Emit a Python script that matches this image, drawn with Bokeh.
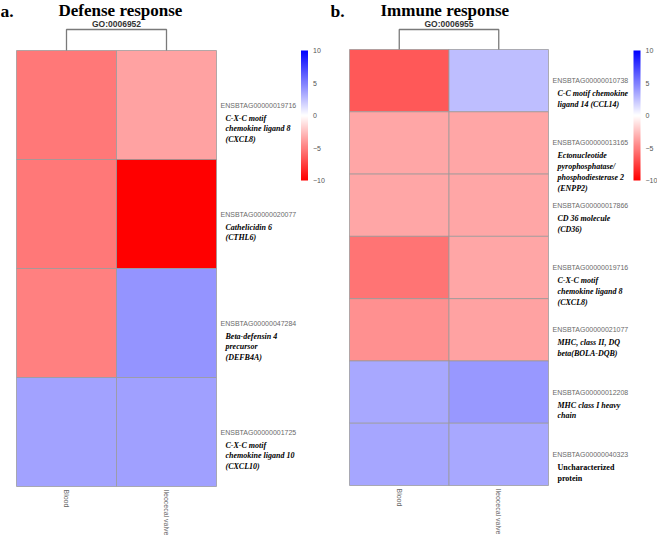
import math
from bokeh.plotting import figure
from bokeh.models import ColumnDataSource, Range1d, LinearColorMapper, ColorBar, FixedTicker, Label
from bokeh.layouts import row
from bokeh.transform import transform
from bokeh.core.properties import value, field
from bokeh.embed import file_html
from bokeh.resources import INLINE

# ---------------- data ----------------
columns = ["Blood", "Ileocecal valve"]

left_ids = ["ENSBTAG00000019716", "ENSBTAG00000020077", "ENSBTAG00000047284", "ENSBTAG00000001725"]
left_names = ["C-X-C motif\nchemokine ligand 8\n(CXCL8)",
              "Cathelicidin 6\n(CTHL6)",
              "Beta-defensin 4\nprecursor\n(DEFB4A)",
              "C-X-C motif\nchemokine ligand 10\n(CXCL10)"]
left_styles = ["bold italic", "bold italic", "bold italic", "bold italic"]
left_blood = [-5.3, -5.3, -5.0, 3.6]
left_ileo = [-3.6, -10.0, 4.2, 3.7]

right_ids = ["ENSBTAG00000010738", "ENSBTAG00000013165", "ENSBTAG00000017866", "ENSBTAG00000019716",
             "ENSBTAG00000021077", "ENSBTAG00000012208", "ENSBTAG00000040323"]
right_names = ["C-C motif chemokine\nligand 14 (CCL14)",
               "Ectonucleotide\npyrophosphatase/\nphosphodiesterase 2\n(ENPP2)",
               "CD 36 molecule\n(CD36)",
               "C-X-C motif\nchemokine ligand 8\n(CXCL8)",
               "MHC, class II, DQ\nbeta(BOLA-DQB)",
               "MHC class I heavy\nchain",
               "Uncharacterized\nprotein"]
right_styles = ["bold italic"] * 6 + ["bold"]
right_blood = [-6.5, -3.5, -3.5, -5.4, -4.3, 3.4, 3.5]
right_ileo = [2.5, -3.5, -3.5, -3.5, -3.6, 4.0, 3.4]

cb_ticks = [-10, -5, 0, 5, 10]

# ---------------- palette (red - white - blue) ----------------
pal = []
for i in range(256):
    t = i / 255 * 2 - 1
    if t < 0:
        g = int(round(255 * (1 + t)))
        pal.append(f"#ff{g:02x}{g:02x}")
    else:
        g = int(round(255 * (1 - t)))
        pal.append(f"#{g:02x}{g:02x}ff")

H = 535


def panel(W, left_px, heat_w, top_px, heat_h, cb_x, letter, title, title_x, go,
          ids, names, styles, blood, ileo):
    n = len(ids)
    ux = heat_w / 2.0
    uy = heat_h / n
    p = figure(width=W, height=H, output_backend="svg", toolbar_location=None,
               x_range=Range1d(-left_px / ux, (W - left_px) / ux),
               y_range=Range1d(-(H - top_px - heat_h) / uy, n + top_px / uy),
               x_axis_type=None, y_axis_type=None,
               min_border=0, min_border_left=0, min_border_right=0,
               min_border_top=0, min_border_bottom=0)
    p.grid.visible = False
    p.outline_line_color = None
    p.background_fill_color = "white"
    p.border_fill_color = "white"

    mapper = LinearColorMapper(palette=pal, low=-10, high=10)

    xs, ys, vs = [], [], []
    for i in range(n):
        for j, vals in enumerate([blood, ileo]):
            xs.append(j + 0.5)
            ys.append(n - i - 0.5)
            vs.append(vals[i])
    src = ColumnDataSource(dict(x=xs, y=ys, v=vs))
    p.rect(x="x", y="y", width=1, height=1, source=src,
           fill_color=transform("v", mapper), line_color="#999999", line_alpha=0.75, line_width=1)

    # dendrogram
    dtop = n + (top_px - 29.0) / uy
    p.multi_line(xs=[[0.5, 0.5, 1.5, 1.5]], ys=[[n, dtop, dtop, n]],
                 line_color="#7a7a7a", line_width=1.3)
    p.text(x=[1], y=[n + (top_px - 23.0) / uy], text=[go], text_align="center",
           text_baseline="middle", text_font=value("Liberation Sans"), text_font_style="bold",
           text_font_size="8.5px", text_color="#333333")

    # column labels
    p.text(x=[0.5, 1.5], y=[-3.0 / uy, -3.0 / uy], text=columns, angle=-math.pi / 2,
           text_align="left", text_baseline="middle", text_font=value("Liberation Sans"),
           text_font_size="7px", text_color="#666666")

    # row labels
    rsrc = ColumnDataSource(dict(
        xi=[2 + 4.0 / ux] * n,
        xn=[2 + 9.0 / ux] * n,
        yi=[n - i - 0.5 for i in range(n)],
        yn=[n - i - 0.5 - 8.5 / uy for i in range(n)],
        ids=ids, names=names, style=styles))
    p.text(x="xi", y="yi", text="ids", source=rsrc, text_align="left", text_baseline="middle",
           text_font=value("Liberation Sans"), text_font_size="7px", text_color="#6a6a6a")
    p.text(x="xn", y="yn", text="names", source=rsrc, text_align="left", text_baseline="top",
           text_font=value("Liberation Serif"), text_font_style=field("style"),
           text_font_size="8px", text_color="#000000", text_line_height=1.2)

    # color bar
    cb = ColorBar(color_mapper=mapper, width=7, height=130, location=(cb_x, H - 50 - 130),
                  ticker=FixedTicker(ticks=cb_ticks), major_label_text_font_size="7px",
                  major_label_text_color="#555555", major_label_text_font="Liberation Sans",
                  major_tick_line_color=None, minor_tick_line_color=None,
                  bar_line_color=None, border_line_color=None,
                  background_fill_alpha=0, padding=0, label_standoff=5, margin=0)
    p.add_layout(cb)

    # titles
    p.add_layout(Label(x=0, y=H - 0.5, x_units="screen", y_units="screen", text=letter,
                       text_font="Liberation Serif", text_font_style="bold", text_font_size="17.5px",
                       text_baseline="top", text_color="#000000"))
    p.add_layout(Label(x=title_x, y=H - 0.5, x_units="screen", y_units="screen", text=title,
                       text_font="Liberation Serif", text_font_style="bold", text_font_size="17px",
                       text_baseline="top", text_color="#000000"))
    return p


pl = panel(330, 16.0, 200.0, 50.0, 436.0, 300.5, "a.", "Defense response", 58.0, "GO:0006952",
           left_ids, left_names, left_styles, left_blood, left_ileo)
pr = panel(327, 19.0, 199.0, 49.0, 436.0, 303.0, "b.", "Immune response", 50.0, "GO:0006955",
           right_ids, right_names, right_styles, right_blood, right_ileo)

layout = row(pl, pr, spacing=0)
open("out.html", "w").write(file_html(layout, INLINE))
